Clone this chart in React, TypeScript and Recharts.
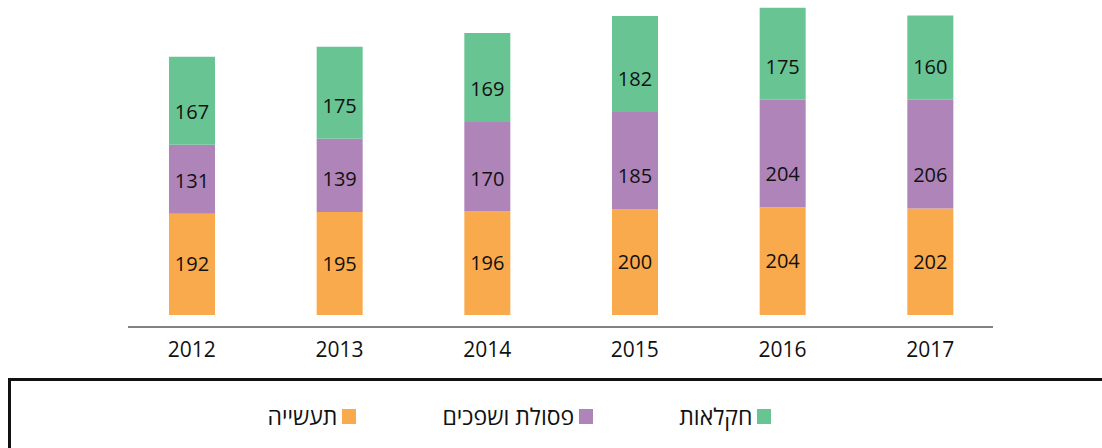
import { BarChart, Bar, XAxis, YAxis, LabelList } from 'recharts'

const years = ['2012', '2013', '2014', '2015', '2016', '2017']
const industry = [192, 195, 196, 200, 204, 202]
const waste = [131, 139, 170, 185, 204, 206]
const agriculture = [167, 175, 169, 182, 175, 160]

const SERIES = [
  { key: 'industry', name: 'תעשייה', color: '#f9aa4c' },
  { key: 'waste', name: 'פסולת ושפכים', color: '#af84b9' },
  { key: 'agriculture', name: 'חקלאות', color: '#69c494' },
]

const FONT = '"Open Sans", "DejaVu Sans", sans-serif'

const data = years.map((year, i) => ({
  year,
  industry: industry[i],
  waste: waste[i],
  agriculture: agriculture[i],
}))

function LegendBox() {
  // RTL order: agriculture on the right, industry on the left
  const items = [...SERIES].reverse()
  return (
    <div style={{
      position: 'absolute', left: 8, top: 378, width: 1110, height: 90,
      border: '3px solid #111', boxSizing: 'border-box',
    }}>
      <div style={{
        position: 'absolute', left: -15, top: 20, width: 1047,
        display: 'flex', justifyContent: 'center', direction: 'rtl', gap: 86,
        fontFamily: FONT, fontSize: 23, color: '#111',
      }}>
        {items.map(s => (
          <div key={s.key} style={{ display: 'flex', alignItems: 'center', gap: 5, direction: 'rtl' }}>
            <span style={{ width: 14, height: 15, background: s.color, display: 'inline-block' }} />
            <span style={{ lineHeight: '30px' }}>{s.name}</span>
          </div>
        ))}
      </div>
    </div>
  )
}

export default function App() {
  return (
    <div style={{ position: 'absolute', left: 0, top: 0, width: 1102, height: 448, overflow: 'hidden', background: '#fff' }}>
      <BarChart width={1102} height={380} data={data}
        margin={{ top: 5, right: 109, left: 128, bottom: 13 }}>
        <XAxis dataKey="year" height={40} padding={{ left: -10, right: -11 }}
          axisLine={{ stroke: '#595959', strokeWidth: 1.3 }} tickLine={false} tickMargin={9}
          tick={{ fontSize: 21, fill: '#111', fontFamily: FONT }} />
        <YAxis hide domain={[-23, 588]} allowDataOverflow />
        <Bar dataKey="industry" stackId="a" fill={SERIES[0].color} barSize={46} isAnimationActive={false}>
          <LabelList dataKey="industry" position="center" fill="#111" fontSize={20} fontFamily={FONT} />
        </Bar>
        <Bar dataKey="waste" stackId="a" fill={SERIES[1].color} barSize={46} isAnimationActive={false}>
          <LabelList dataKey="waste" position="insideBottom" offset={26} fill="#111" fontSize={20} fontFamily={FONT} />
        </Bar>
        <Bar dataKey="agriculture" stackId="a" fill={SERIES[2].color} barSize={46} isAnimationActive={false}>
          <LabelList dataKey="agriculture" position="insideBottom" offset={26} fill="#111" fontSize={20} fontFamily={FONT} />
        </Bar>
      </BarChart>
      <LegendBox />
    </div>
  )
}
